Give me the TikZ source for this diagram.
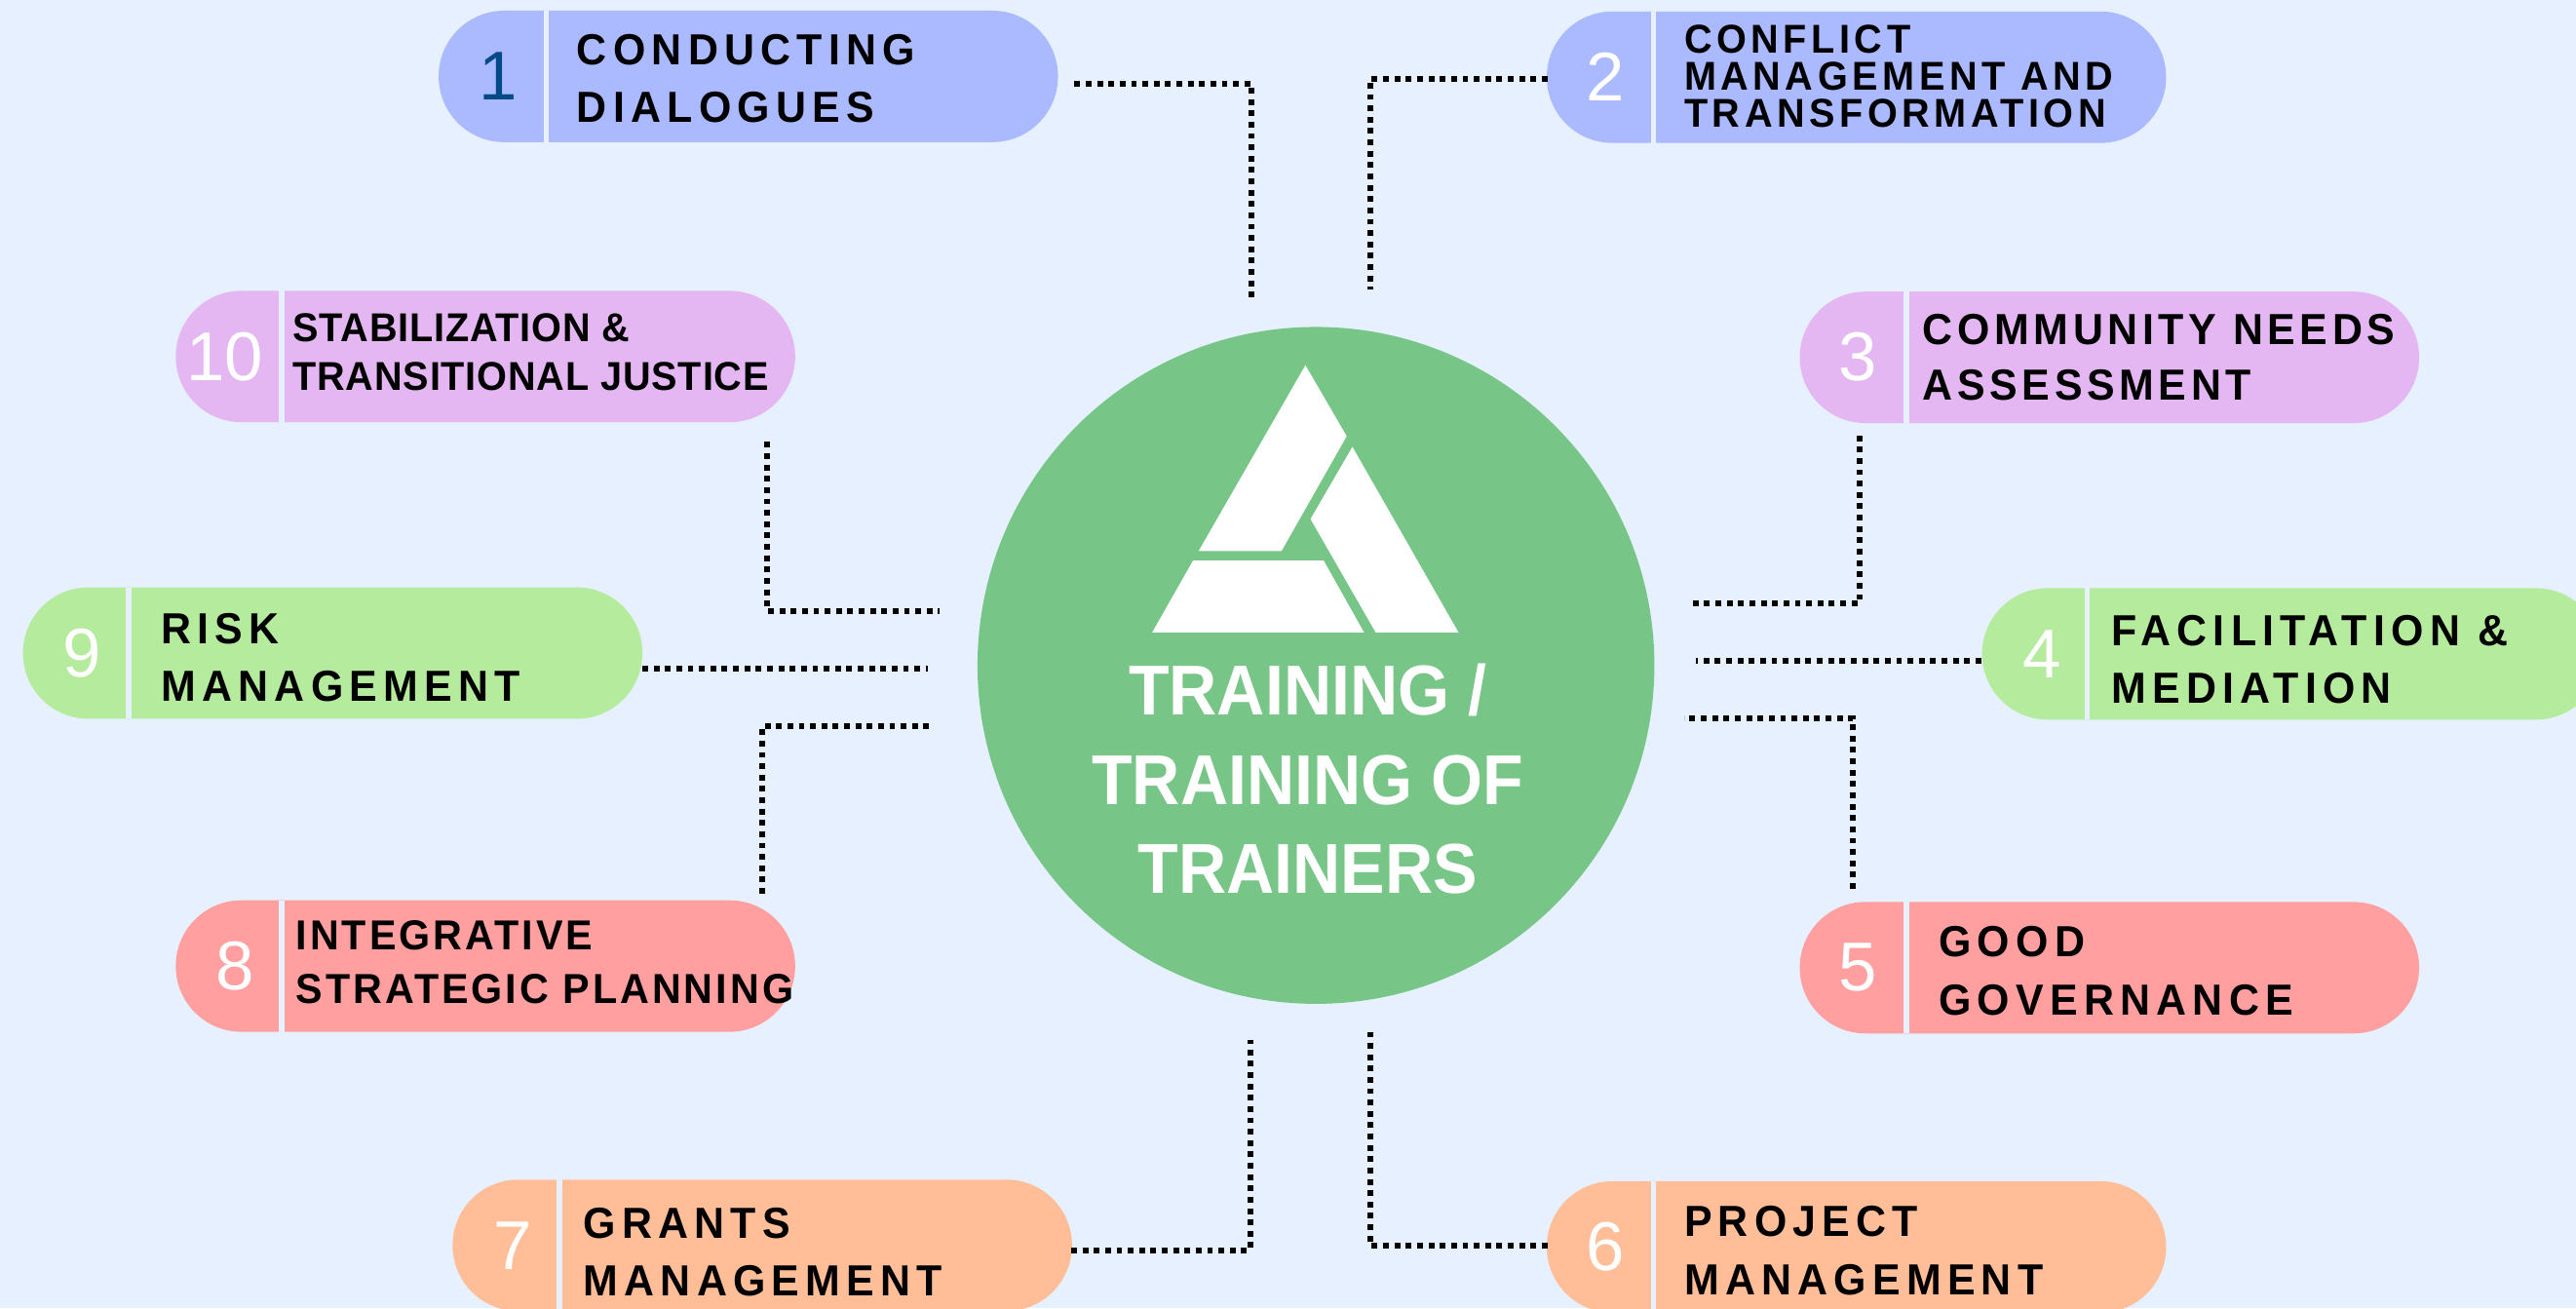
\documentclass[tikz,border=0pt]{standalone}
\usepackage{fontspec}
\setmainfont{Liberation Sans}
\newfontfamily\labA[LetterSpace=14,FakeStretch=0.96]{Liberation Sans}
\newfontfamily\labB[LetterSpace=11,FakeStretch=0.96]{Liberation Sans}
\newfontfamily\labC[LetterSpace=7,FakeStretch=0.96]{Liberation Sans}
\newfontfamily\labD[LetterSpace=2,FakeStretch=0.96]{Liberation Sans}
\newfontfamily\labE[LetterSpace=10.5,FakeStretch=0.96]{Liberation Sans}
\newfontfamily\titlef[FakeStretch=0.94]{Liberation Sans}
\definecolor{bgc}{HTML}{E6F0FF}
\definecolor{blueP}{HTML}{ABBAFF}
\definecolor{purpleP}{HTML}{E4B7F3}
\definecolor{greenP}{HTML}{B5EB9C}
\definecolor{redP}{HTML}{FF9F9F}
\definecolor{orangeP}{HTML}{FFBE98}
\definecolor{circleC}{HTML}{78C687}
\definecolor{numblue}{HTML}{004A87}
\tikzset{
  pillshape/.style={inner sep=0pt,minimum width=377pt,minimum height=80pt,rounded corners=39.9pt},
  divider/.style={draw=bgc,line width=3.4pt},
  numlabel/.style={inner sep=0pt,text=white,font=\fontsize{42}{42}\selectfont},
  pilltext/.style={inner sep=0pt,anchor=base west,align=left},
  sizeA/.style={font=\labA\bfseries\fontsize{26.5}{35.3}\selectfont},
  sizeB/.style={font=\labB\bfseries\fontsize{24.5}{22.5}\selectfont},
  sizeC/.style={font=\labC\bfseries\fontsize{25.5}{33}\selectfont},
  sizeD/.style={font=\labD\bfseries\fontsize{24.5}{29.5}\selectfont},
  sizeE/.style={font=\labE\bfseries\fontsize{26.5}{33.6}\selectfont},
  link/.style={draw=black,line width=3.6pt,dash pattern=on 3.5pt off 3.4pt},
  logopart/.style={fill=white,draw=none},
  titletext/.style={inner sep=0pt,anchor=base,text=white,font=\titlef\bfseries\fontsize{43}{54.5}\selectfont,align=center}
}
\newcommand{\pillitem}[7]{% name, left x, centre y, divider x, colour, number, number centre x
  \node[pillshape,fill=#5] (#1) at (#2+188.5,#3) {};
  \coordinate (#1dt) at (#4,#3-40);
  \coordinate (#1db) at (#4,#3+40);
  \draw[divider] (#1dt) -- (#1db);
  \node[numlabel] (#1n) at (#7,#3) {#6};
}
\begin{document}
\begin{tikzpicture}[x=1pt,y=-1pt]
\useasboundingbox (0,0) rectangle (1568,796.2);
\clip (0,0) rectangle (1568,796.2);
\fill[bgc] (0,0) rectangle (1568,796.2);
\node[circle,fill=circleC,inner sep=0pt,minimum size=412pt] (hub) at (801,405) {};
\fill[logopart] (794.6,222.3) -- (819.7,265.5) -- (780,335.4) -- (729.6,335.4) -- cycle;
\fill[logopart] (823.2,272) -- (887.8,385) -- (837.4,385) -- (797.7,315.9) -- cycle;
\fill[logopart] (726.2,341.2) -- (805.7,341.2) -- (830.3,385) -- (701.3,385) -- cycle;
\node[titletext] (title) at (796,544) {TRAINING /\\TRAINING OF\\TRAINERS};

\pillitem{pa}{267}{46.5}{332.5}{blueP}{\textcolor{numblue}{1}}{303}
\pillitem{pb}{941.5}{47}{1006.5}{blueP}{2}{977}
\pillitem{pj}{107}{217}{171.5}{purpleP}{10}{137}
\pillitem{pc}{1095.5}{217.5}{1160.5}{purpleP}{3}{1131}
\pillitem{pi}{14}{397.5}{78.5}{greenP}{9}{50}
\pillitem{pd}{1206.5}{398}{1270.5}{greenP}{4}{1243}
\pillitem{ph}{107}{588}{171.5}{redP}{8}{143}
\pillitem{pe}{1095.5}{589}{1160.5}{redP}{5}{1131}
\pillitem{pg}{275.5}{758}{340.5}{orangeP}{7}{312}
\pillitem{pf}{941.5}{759}{1006.5}{orangeP}{6}{977}

\node[pilltext,sizeA] (ta) at (351,74.6) {CONDUCTING\\DIALOGUES};
\node[pilltext,sizeB] (tb) at (1025,77.3) {CONFLICT\\MANAGEMENT AND\\TRANSFORMATION};
\node[pilltext,sizeE] (tc) at (1170,243.6) {COMMUNITY NEEDS\\ASSESSMENT};
\node[pilltext,sizeA] (td) at (1285,428.3) {FACILITATION \&\\MEDIATION};
\node[pilltext,sizeA] (te) at (1180,617.8) {GOOD\\GOVERNANCE};
\node[pilltext,sizeA] (tf) at (1025,788) {PROJECT\\MANAGEMENT};
\node[pilltext,sizeA] (tg) at (355,789) {GRANTS\\MANAGEMENT};
\node[pilltext,sizeC] (th) at (180,611) {INTEGRATIVE\\STRATEGIC PLANNING};
\node[pilltext,sizeA] (ti) at (98,427) {RISK\\MANAGEMENT};
\node[pilltext,sizeD] (tj) at (178,237.5) {STABILIZATION \&\\TRANSITIONAL JUSTICE};

\coordinate (la1) at (654,51); \coordinate (la2) at (762,51); \coordinate (la3) at (762,182);
\coordinate (lb1) at (942,48); \coordinate (lb2) at (834,48); \coordinate (lb3) at (834,176);
\coordinate (lc1) at (1132,265); \coordinate (lc2) at (1132,367); \coordinate (lc3) at (1028,367);
\coordinate (ld1) at (1206,402); \coordinate (ld3) at (1032,402);
\coordinate (le1) at (1128,541); \coordinate (le2) at (1128,437); \coordinate (le3) at (1025,437);
\coordinate (lf1) at (942,758); \coordinate (lf2) at (834,758); \coordinate (lf3) at (834,628);
\coordinate (lg1) at (652,761); \coordinate (lg2) at (761,761); \coordinate (lg3) at (761,633);
\coordinate (lh1) at (464,544); \coordinate (lh2) at (464,442); \coordinate (lh3) at (568,442);
\coordinate (li1) at (391,407); \coordinate (li3) at (565,407);
\coordinate (lj1) at (467,269); \coordinate (lj2) at (467,372); \coordinate (lj3) at (572,372);
\draw[link] (la1) -- (la2) -- (la3);
\draw[link] (lb1) -- (lb2) -- (lb3);
\draw[link] (lc1) -- (lc2) -- (lc3);
\draw[link] (ld1) -- (ld3);
\draw[link] (le1) -- (le2) -- (le3);
\draw[link] (lf1) -- (lf2) -- (lf3);
\draw[link] (lg1) -- (lg2) -- (lg3);
\draw[link] (lh1) -- (lh2) -- (lh3);
\draw[link] (li1) -- (li3);
\draw[link] (lj1) -- (lj2) -- (lj3);
\end{tikzpicture}
\end{document}
